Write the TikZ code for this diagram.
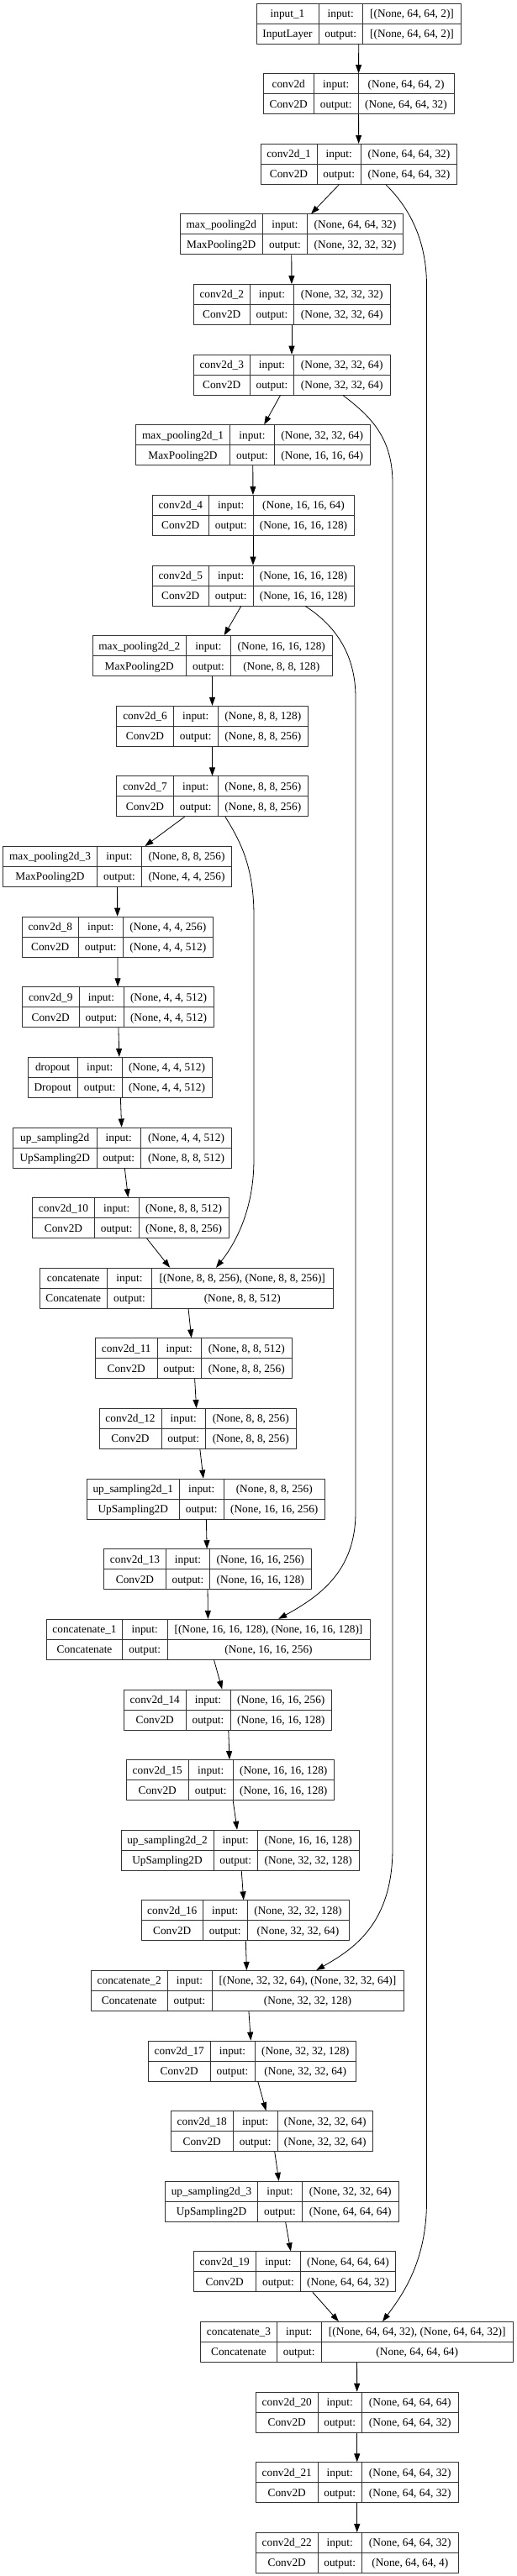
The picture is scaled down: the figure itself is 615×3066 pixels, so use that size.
\documentclass[tikz,border=0pt]{standalone}
\usepackage{fontspec}
\setmainfont{Liberation Serif}
\usetikzlibrary{arrows.meta}

\begin{document}
\begin{tikzpicture}[x=1pt,y=-1pt,line join=round,>={Triangle[length=10pt,width=7pt]},
    layer/.style={draw=black!80,line width=0.8pt,minimum height=48pt,inner sep=0pt},
    cell/.style={inner sep=0pt,text height=9pt,text depth=0pt,font=\fontsize{13.3}{15}\selectfont},
    edge/.style={->,line width=0.8pt}]
      \useasboundingbox (0,0) rectangle (615,3066);
      % layers: name / left / rule 1 / rule 2 / right / texts
      \foreach \id/\xa/\xb/\xc/\xd/\nm/\cl/\ip/\op [count=\k] in {
        in1/305/379/431.5/548.5/input\_1/InputLayer/{[(None, 64, 64, 2)]}/{[(None, 64, 64, 2)]},
        c0/313/373.5/426/540/conv2d/Conv2D/{(None, 64, 64, 2)}/{(None, 64, 64, 32)},
        c1/310/377/429.5/543.5/conv2d\_1/Conv2D/{(None, 64, 64, 32)}/{(None, 64, 64, 32)},
        mp0/214/312.5/365.5/479.5/max\_pooling2d/MaxPooling2D/{(None, 64, 64, 32)}/{(None, 32, 32, 32)},
        c2/230/297.5/349.5/464/conv2d\_2/Conv2D/{(None, 32, 32, 32)}/{(None, 32, 32, 64)},
        c3/230/297.5/349.5/464/conv2d\_3/Conv2D/{(None, 32, 32, 64)}/{(None, 32, 32, 64)},
        mp1/161.5/273.5/326.5/440/max\_pooling2d\_1/MaxPooling2D/{(None, 32, 32, 64)}/{(None, 16, 16, 64)},
        c4/181/248.5/301/421/conv2d\_4/Conv2D/{(None, 16, 16, 64)}/{(None, 16, 16, 128)},
        c5/181/248.5/301/421/conv2d\_5/Conv2D/{(None, 16, 16, 128)}/{(None, 16, 16, 128)},
        mp2/110/221.5/274.5/395/max\_pooling2d\_2/MaxPooling2D/{(None, 16, 16, 128)}/{(None, 8, 8, 128)},
        c6/138.5/206.5/259/366.5/conv2d\_6/Conv2D/{(None, 8, 8, 128)}/{(None, 8, 8, 256)},
        c7/138.5/206.5/259/366.5/conv2d\_7/Conv2D/{(None, 8, 8, 256)}/{(None, 8, 8, 256)},
        mp3/3.5/115.5/168.5/275.5/max\_pooling2d\_3/MaxPooling2D/{(None, 8, 8, 256)}/{(None, 4, 4, 256)},
        c8/26/93.5/146/253.5/conv2d\_8/Conv2D/{(None, 4, 4, 256)}/{(None, 4, 4, 512)},
        c9/26.5/94/147/254/conv2d\_9/Conv2D/{(None, 4, 4, 512)}/{(None, 4, 4, 512)},
        dr/33/92.5/145/252/dropout/Dropout/{(None, 4, 4, 512)}/{(None, 4, 4, 512)},
        up0/15.5/115/167.5/275.5/up\_sampling2d/UpSampling2D/{(None, 4, 4, 512)}/{(None, 8, 8, 512)},
        c10/38.5/112.5/165/272/conv2d\_10/Conv2D/{(None, 8, 8, 512)}/{(None, 8, 8, 256)},
        cat0/47/127.5/180.5/396/concatenate/Concatenate/{[(None, 8, 8, 256), (None, 8, 8, 256)]}/{(None, 8, 8, 512)},
        c11/113.5/187/239.5/347/conv2d\_11/Conv2D/{(None, 8, 8, 512)}/{(None, 8, 8, 256)},
        c12/118/192/244.5/352/conv2d\_12/Conv2D/{(None, 8, 8, 256)}/{(None, 8, 8, 256)},
        up1/103/213.5/266/386.5/up\_sampling2d\_1/UpSampling2D/{(None, 8, 8, 256)}/{(None, 16, 16, 256)},
        c13/123.5/197.5/249.5/370/conv2d\_13/Conv2D/{(None, 16, 16, 256)}/{(None, 16, 16, 128)},
        cat1/55.5/145.5/199/440/concatenate\_1/Concatenate/{[(None, 16, 16, 128), (None, 16, 16, 128)]}/{(None, 16, 16, 256)},
        c14/147.5/221/274/394.5/conv2d\_14/Conv2D/{(None, 16, 16, 256)}/{(None, 16, 16, 128)},
        c15/150/224.5/277/397.5/conv2d\_15/Conv2D/{(None, 16, 16, 128)}/{(None, 16, 16, 128)},
        up2/144/254/306.5/427/up\_sampling2d\_2/UpSampling2D/{(None, 16, 16, 128)}/{(None, 32, 32, 128)},
        c16/168/241.5/294/415/conv2d\_16/Conv2D/{(None, 32, 32, 128)}/{(None, 32, 32, 64)},
        cat2/108.5/199/252/480/concatenate\_2/Concatenate/{[(None, 32, 32, 64), (None, 32, 32, 64)]}/{(None, 32, 32, 128)},
        c17/176.5/250/303/423.5/conv2d\_17/Conv2D/{(None, 32, 32, 128)}/{(None, 32, 32, 64)},
        c18/203/277.5/330/443.5/conv2d\_18/Conv2D/{(None, 32, 32, 64)}/{(None, 32, 32, 64)},
        up3/196.5/306.5/359.5/474/up\_sampling2d\_3/UpSampling2D/{(None, 32, 32, 64)}/{(None, 64, 64, 64)},
        c19/230/304.5/357.5/470.5/conv2d\_19/Conv2D/{(None, 64, 64, 64)}/{(None, 64, 64, 32)},
        cat3/238.5/329.5/382/610.5/concatenate\_3/Concatenate/{[(None, 64, 64, 32), (None, 64, 64, 32)]}/{(None, 64, 64, 64)},
        c20/304.5/378/430.5/545/conv2d\_20/Conv2D/{(None, 64, 64, 64)}/{(None, 64, 64, 32)},
        c21/304.5/378/430.5/545/conv2d\_21/Conv2D/{(None, 64, 64, 32)}/{(None, 64, 64, 32)},
        c22/304.5/378/430.5/545/conv2d\_22/Conv2D/{(None, 64, 64, 32)}/{(None, 64, 64, 4)}}
      {
        \pgfmathsetmacro\ty{4+83.62*(\k-1)}
        \node[layer,minimum width={\xd-\xa}] (\id) at ({(\xa+\xd)/2},{\ty+24}) {};
        \draw[draw=black!80,line width=0.8pt] (\xb,\ty) -- (\xb,{\ty+48}) (\xc,\ty) -- (\xc,{\ty+48})
          (\xa,{\ty+24}) -- (\xd,{\ty+24});
        \node[cell] at ({(\xa+\xb)/2},{\ty+12}) {\nm};
        \node[cell] at ({(\xa+\xb)/2},{\ty+36}) {\cl};
        \node[cell] at ({(\xb+\xc)/2},{\ty+12}) {input:};
        \node[cell] at ({(\xb+\xc)/2},{\ty+36}) {output:};
        \node[cell] at ({(\xc+\xd)/2},{\ty+12}) {\ip};
        \node[cell] at ({(\xc+\xd)/2},{\ty+36}) {\op};
      }
      % main chain
      \foreach \s/\e in {in1/c0,c0/c1,c1/mp0,mp0/c2,c2/c3,c3/mp1,mp1/c4,c4/c5,c5/mp2,mp2/c6,c6/c7,
        c7/mp3,mp3/c8,c8/c9,c9/dr,dr/up0,up0/c10,c10/cat0,cat0/c11,c11/c12,c12/up1,up1/c13,c13/cat1,
        cat1/c14,c14/c15,c15/up2,up2/c16,c16/cat2,cat2/c17,c17/c18,c18/up3,up3/c19,c19/cat3,
        cat3/c20,c20/c21,c21/c22}
      \draw[edge] (\s) -- (\e);
      % skip connections
      \draw[edge] ([xshift=32]c1.south) .. controls (490,250) and (507.5,290) .. (507.5,340)
        -- (507.5,2620) .. controls (507.5,2690) and (480,2730) .. ([xshift=30.5]cat3.north);
      \draw[edge] ([xshift=61]c3.south) .. controls (440,495) and (467,520) .. (467,575)
        -- (467,2200) .. controls (467,2290) and (420,2320) .. ([xshift=82]cat2.north);
      \draw[edge] ([xshift=62]c5.south) .. controls (400,745) and (423,780) .. (423,830)
        -- (423,1800) .. controls (423,1870) and (380,1900) .. ([xshift=83.5]cat1.north);
      \draw[edge] ([xshift=15.5]c7.south) .. controls (285,1000) and (302,1030) .. (302,1090)
        -- (302,1380) .. controls (302,1440) and (280,1480) .. ([xshift=35.5]cat0.north);
    \end{tikzpicture}
\end{document}
